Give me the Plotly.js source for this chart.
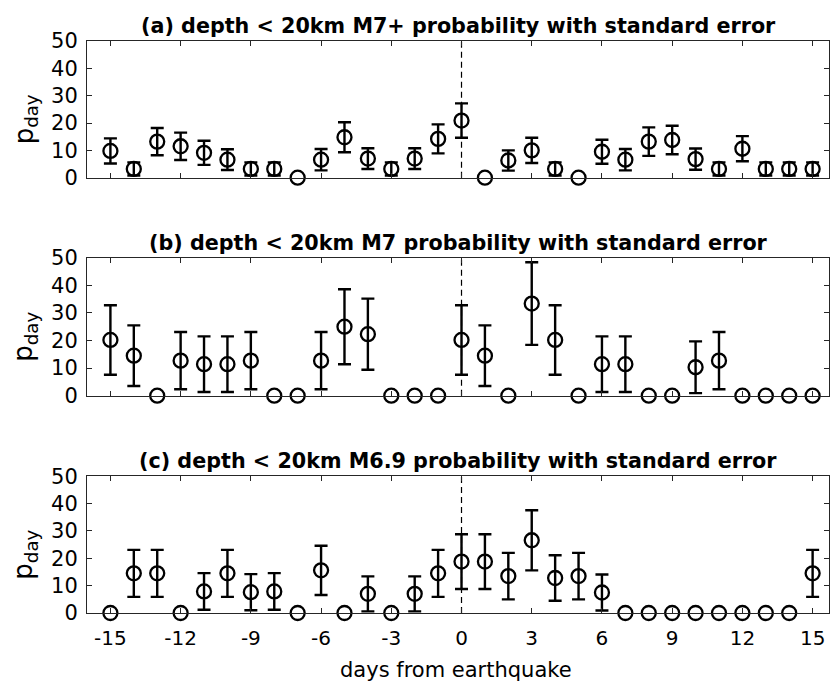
<!DOCTYPE html>
<html>
<head>
<meta charset="utf-8">
<script src="https://cdn.plot.ly/plotly-3.0.1.min.js"></script>
<style>html,body{margin:0;padding:0;background:#fff;}#chart{width:830px;height:683px;}</style>
</head>
<body>
<div id="chart"></div>
<script>
// days from earthquake
const days = [-15,-14,-13,-12,-11,-10,-9,-8,-7,-6,-5,-4,-3,-2,-1,0,1,2,3,4,5,6,7,8,9,10,11,12,13,14,15];

// (a) depth < 20km M7+
const pA   = [9.8,3.2,13.2,11.5,9.1,6.6,3.2,3.2,0,6.6,14.8,7.0,3.2,7.0,14.2,20.9,0,6.3,10.0,3.2,0,9.5,6.6,13.2,13.8,6.8,3.2,10.6,3.2,3.2,3.2];
const seA  = [4.6,2.4,5.0,5.0,4.4,3.8,2.4,2.4,0,3.9,5.5,3.8,2.4,3.8,5.3,6.3,0,3.7,4.6,2.4,0,4.4,3.9,5.2,5.2,3.9,2.4,4.6,2.4,2.4,2.4];

// (b) depth < 20km M7
const pB   = [20.2,14.5,0,12.7,11.4,11.4,12.7,0,0,12.7,25.0,22.3,0,0,0,20.2,14.5,0,33.4,20.2,0,11.4,11.4,0,0,10.3,12.7,0,0,0,0];
const seB  = [12.6,11.0,0,10.4,10.1,10.1,10.4,0,0,10.4,13.6,12.9,0,0,0,12.6,11.0,0,15.0,12.6,0,10.1,10.1,0,0,9.4,10.4,0,0,0,0];

// (c) depth < 20km M6.9
const pC   = [0,14.5,14.5,0,7.9,14.5,7.6,7.9,0,15.6,0,7.0,0,7.0,14.5,18.8,18.8,13.5,26.6,12.8,13.5,7.5,0,0,0,0,0,0,0,0,14.5];
const seC  = [0,8.6,8.6,0,6.7,8.6,6.6,6.7,0,9.0,0,6.4,0,6.4,8.6,10.0,10.0,8.5,11.0,8.3,8.5,6.6,0,0,0,0,0,0,0,0,8.6];

const titles = [
  "(a) depth < 20km M7+ probability with standard error",
  "(b) depth < 20km M7 probability with standard error",
  "(c) depth < 20km M6.9 probability with standard error"
];
const xTickVals = [-15,-12,-9,-6,-3,0,3,6,9,12,15];
const yTickVals = [0,10,20,30,40,50];
const yTitle = "p<sub>day</sub>";
const xTitle = "days from earthquake";

const FONT = "'DejaVu Sans', sans-serif";
const AX = "#262626";

function mkTrace(p, se, i) {
  return {
    x: days, y: p, type: "scatter", mode: "markers",
    xaxis: i === 0 ? "x" : "x" + (i + 1),
    yaxis: i === 0 ? "y" : "y" + (i + 1),
    cliponaxis: false,
    marker: {symbol: "circle-open", size: 14, color: "black", line: {width: 2.3, color: "black"}},
    error_y: {type: "data", array: se.map(e => e > 0 ? e : NaN), visible: true, thickness: 2.4, width: 6.5, color: "black"},
    hoverinfo: "x+y", showlegend: false
  };
}

const data = [mkTrace(pA, seA, 0), mkTrace(pB, seB, 1), mkTrace(pC, seC, 2)];

const domains = [[0.761, 1], [0.380, 0.621], [0, 0.239]];
const layout = {
  width: 830, height: 683,
  margin: {l: 87, r: 1, t: 41, b: 70},
  paper_bgcolor: "white", plot_bgcolor: "white",
  font: {family: FONT, color: "black", size: 20},
  showlegend: false,
  shapes: [], annotations: []
};

for (let i = 0; i < 3; i++) {
  const sfx = i === 0 ? "" : String(i + 1);
  layout["xaxis" + sfx] = {
    range: [-16, 15.7], anchor: "y" + sfx, domain: [0, 1],
    tickmode: "array", tickvals: xTickVals, ticktext: xTickVals.map(String),
    showticklabels: i === 2, ticks: "inside", ticklen: 5, tickcolor: AX, tickwidth: 1,
    showline: true, linecolor: AX, linewidth: 1, mirror: "ticks",
    showgrid: false, zeroline: false, ticklabelstandoff: 7,
    tickfont: {size: 20, family: FONT, color: "black"}
  };
  layout["yaxis" + sfx] = {
    range: [0, 50], anchor: "x" + sfx, domain: domains[i],
    tickmode: "array", tickvals: yTickVals,
    ticks: "inside", ticklen: 5, tickcolor: AX, tickwidth: 1,
    showline: true, linecolor: AX, linewidth: 1, mirror: "ticks",
    showgrid: false, zeroline: false, ticklabelstandoff: 4,
    tickfont: {size: 21, family: FONT, color: "black"}
  };
  layout.shapes.push({
    type: "line", xref: "x" + sfx, yref: "y" + sfx + " domain",
    x0: 0, x1: 0, y0: 0, y1: 1, layer: "below",
    line: {color: "black", width: 1.2, dash: "6px,4px"}
  });
  layout.annotations.push({
    text: "<b>" + titles[i].replace("<", "&lt;") + "</b>",
    xref: "x" + sfx + " domain", yref: "y" + sfx + " domain",
    x: 0.5, y: 1, xanchor: "center", yanchor: "bottom", yshift: 1,
    showarrow: false, font: {size: 20.7, family: FONT, color: "black"}
  });
  layout.annotations.push({
    text: yTitle, textangle: -90,
    xref: "x" + sfx + " domain", yref: "y" + sfx + " domain",
    x: 0, y: 0.5, xanchor: "center", yanchor: "middle", xshift: -62, yshift: -10,
    showarrow: false, font: {size: 26, family: FONT, color: "black"}
  });
}
layout.annotations.push({
  text: xTitle, xref: "x3 domain", yref: "y3 domain",
  x: 0.5, y: 0, xanchor: "center", yanchor: "middle", yshift: -57, xshift: -2,
  showarrow: false, font: {size: 21, family: FONT, color: "black"}
});

Plotly.newPlot("chart", data, layout, {displayModeBar: false, staticPlot: true});
</script>
</body>
</html>
